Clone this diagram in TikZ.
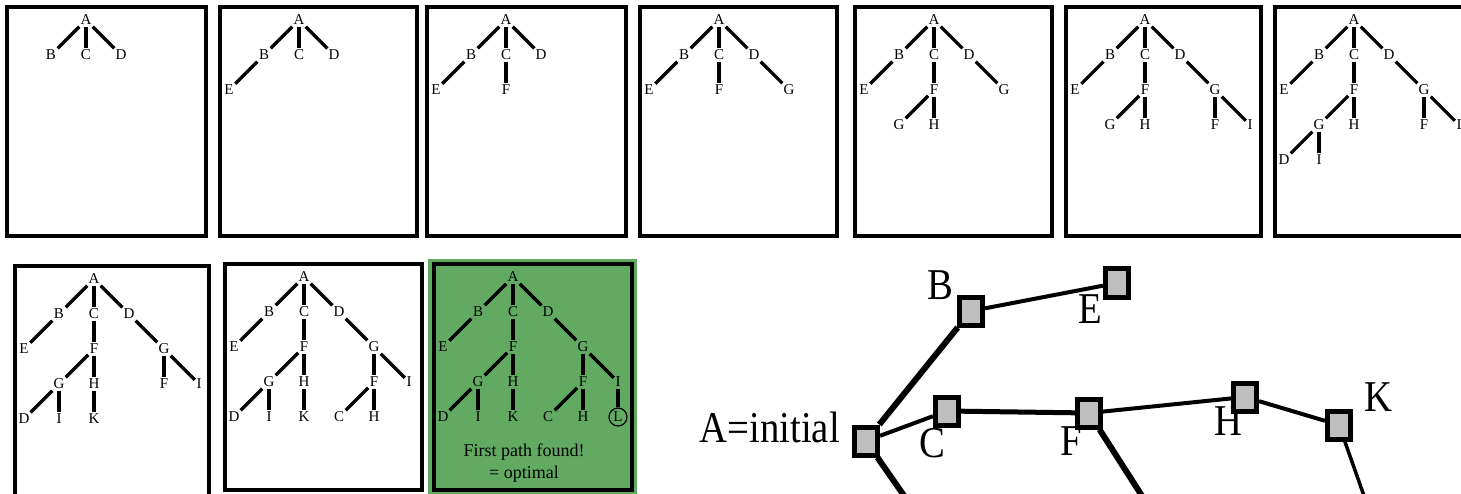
\documentclass[tikz,border=0pt]{standalone}
\usepackage{fontspec}
\setmainfont{Liberation Serif}
\newfontfamily\condserif[FakeStretch=0.88]{Liberation Serif}
\usetikzlibrary{calc}
\definecolor{cFound}{HTML}{62AA62}

\begin{document}
\begin{tikzpicture}[x=1pt,y=-1pt,
  lbl/.style={inner sep=1.5pt,font=\fontsize{15}{18}\selectfont},
  edge/.style={line width=3.2pt},
  panel/.style={draw,line width=4pt},
  goal/.style={circle,draw,line width=1.2pt,minimum size=18pt,inner sep=0pt},
  sq/.style={draw,line width=5pt,fill=gray!50,minimum width=23pt,minimum height=28pt,inner sep=0pt},
  big/.style={inner sep=0pt,anchor=base,font=\condserif\fontsize{44}{50}\selectfont}]
\useasboundingbox (0,0) rectangle (1461,494);
\clip (0,0) rectangle (1461,494);
% search trees, one panel per step
\fill[cFound] (428,259) rectangle (637,496);
\foreach \p/\px/\py/\w/\h in {1/7/7/199/229,2/220/7/197/229,3/427/7/199/229,4/640/7/197/229,
  5/855/7/197/229,6/1066/7/195/229,7/1275/7/200/229,8/15/266/194/250,9/225/264/197/226,10/434/264/198/226}{
  \draw[panel] (\px,\py) rectangle ++(\w,\h);
  \node[lbl] (A\p) at (\px+79,\py+13) {A};
  \foreach \n/\up/\dx/\dy/\lab/\s in {B/A/-1/1/B/1,C/A/0/1/C/1,D/A/1/1/D/1,E/B/-2/2/E/2,F/C/0/2/F/3,
    G/D/2/2/G/4,FG/F/-1/3/G/5,FH/F/0/3/H/5,GF/G/2/3/F/6,GI/G/3/3/I/6,FGD/FG/-2/4/D/7,
    FGI/FG/-1/4/I/7,FHK/FH/0/4/K/8,GFC/GF/1/4/C/9,GFH/GF/2/4/H/9}{
    \ifnum\s>\p\relax\else
      \node[lbl] (\n\p) at ($(A\p)+(\dx*35,\dy*35)$) {\lab};
      \draw[edge] (\up\p) -- (\n\p);
    \fi}
}
\node[lbl,goal] (GIL10) at ($(A10)+(105,140)$) {L};
\draw[edge] (GI10) -- (GIL10);
\node[font=\fontsize{18}{22}\selectfont,align=center] (found) at (524,463) {First path found!\\= optimal};
% graph
\node[big,anchor=base east] (lA) at (840,442) {A=initial};
\node[big] (lB) at (940,299) {B};
\node[big] (lC) at (932,457) {C};
\node[big] (lE) at (1090,323) {E};
\node[big] (lF) at (1071,455) {F};
\node[big] (lH) at (1228,435) {H};
\node[big] (lK) at (1378,411) {K};
\node[sq] (gA) at (866,441) {};
\node[sq] (gB) at (971,311) {};
\node[sq] (gC) at (947,411) {};
\node[sq] (gE) at (1117,283) {};
\node[sq] (gF) at (1089,413) {};
\node[sq] (gH) at (1245,397) {};
\node[sq] (gK) at (1339,425) {};
\coordinate (outA) at (914,510);
\coordinate (outF) at (1151,510);
\coordinate (outK) at (1369,510);
\draw[line width=6pt] (gA)--(gB);
\draw[line width=4pt] (gA)--(gC);
\draw[line width=5pt] (gC)--(gF);
\draw[line width=4pt] (gF)--(gH);
\draw[line width=4pt] (gH)--(gK);
\draw[line width=4pt] (gB)--(gE);
\draw[line width=6pt] (gA)--(outA);
\draw[line width=6pt] (gF)--(outF);
\draw[line width=3.5pt] (gK)--(outK);
\end{tikzpicture}
\end{document}
